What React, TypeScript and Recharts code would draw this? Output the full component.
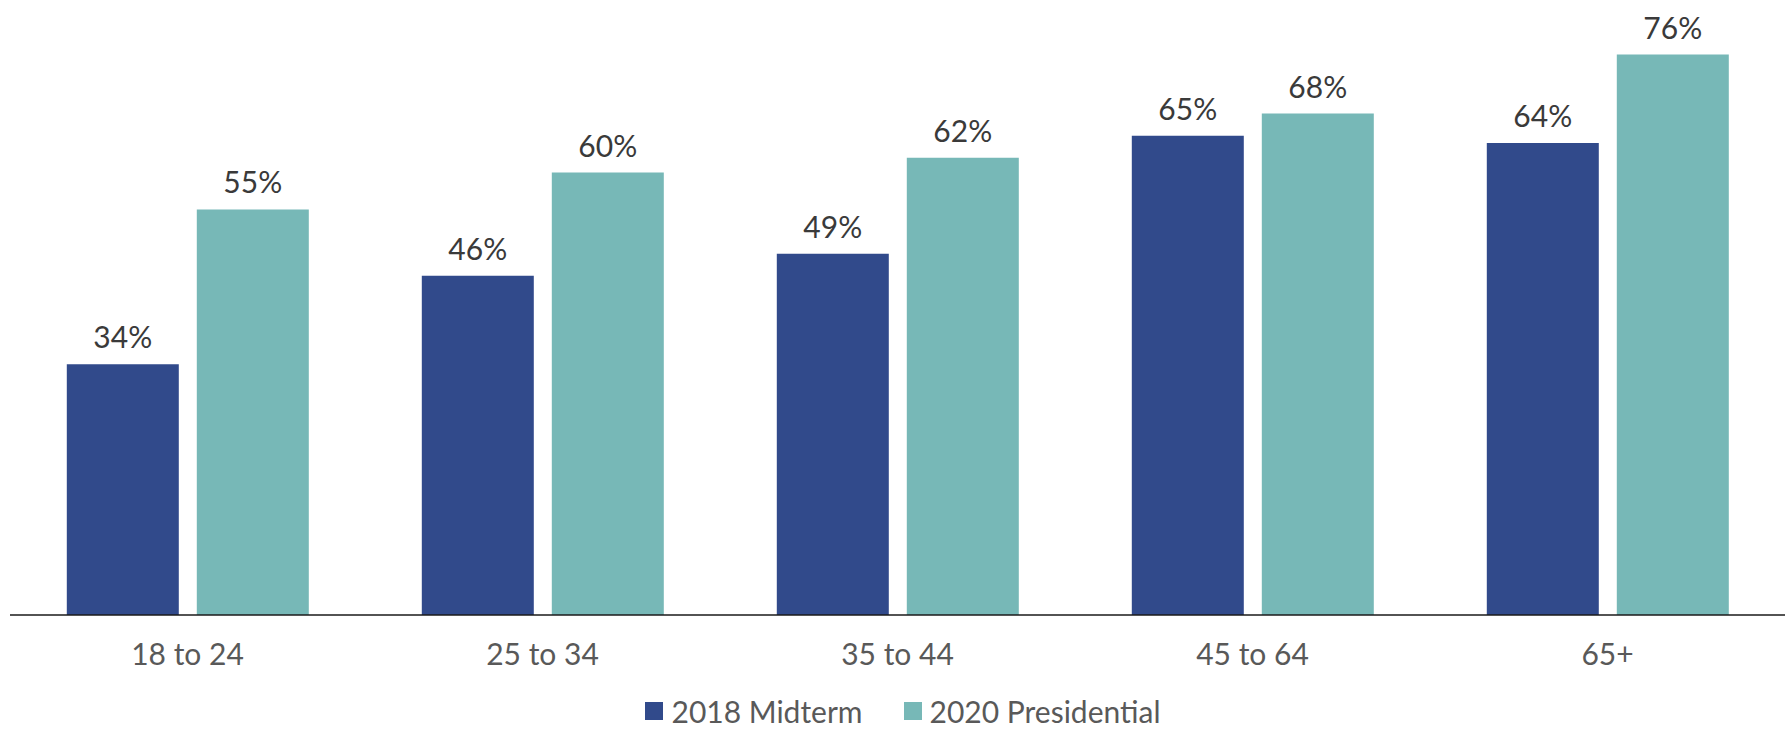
import { BarChart, Bar, XAxis, YAxis, Legend, LabelList } from "recharts";

const ageGroups = ["18 to 24", "25 to 34", "35 to 44", "45 to 64", "65+"];
const midterm2018 = [34, 46, 49, 65, 64];
const presidential2020 = [55, 60, 62, 68, 76];

const data = ageGroups.map((age, i) => ({
  age,
  midterm: midterm2018[i],
  presidential: presidential2020[i],
}));

const FONT = "Lato, 'Open Sans', sans-serif";

export default function App() {
  return (
    <div style={{ fontFamily: FONT }}>
      <style>{`body{margin:0}`}</style>
      <BarChart
        width={1785}
        height={729}
        data={data}
        margin={{ top: 25, right: 0, left: 10, bottom: 0 }}
        barCategoryGap="16%"
        barGap={18}
      >
        <XAxis
          dataKey="age"
          height={78}
          tickLine={false}
          tickMargin={23}
          axisLine={{ stroke: "#1a1a1a", strokeWidth: 1.5 }}
          tick={{ fill: "#595959", fontSize: 30, fontFamily: FONT }}
        />
        <YAxis hide domain={[0, 80]} />
        <Legend
          verticalAlign="bottom"
          iconType="square"
          iconSize={18}
          wrapperStyle={{ paddingLeft: 26 }}
          formatter={(value) => (
            <span
              style={{
                color: "#595959",
                fontSize: 30,
                marginLeft: 4,
                marginRight: 31,
                verticalAlign: "middle",
              }}
            >
              {value}
            </span>
          )}
        />
        <Bar dataKey="midterm" name="2018 Midterm" fill="#314a8b" isAnimationActive={false}>
          <LabelList
            dataKey="midterm"
            position="top"
            offset={16}
            formatter={(v) => `${v}%`}
            style={{ fill: "#3a3a3a", fontSize: 30, fontFamily: FONT }}
          />
        </Bar>
        <Bar dataKey="presidential" name="2020 Presidential" fill="#77b8b7" isAnimationActive={false}>
          <LabelList
            dataKey="presidential"
            position="top"
            offset={16}
            formatter={(v) => `${v}%`}
            style={{ fill: "#3a3a3a", fontSize: 30, fontFamily: FONT }}
          />
        </Bar>
      </BarChart>
    </div>
  );
}
